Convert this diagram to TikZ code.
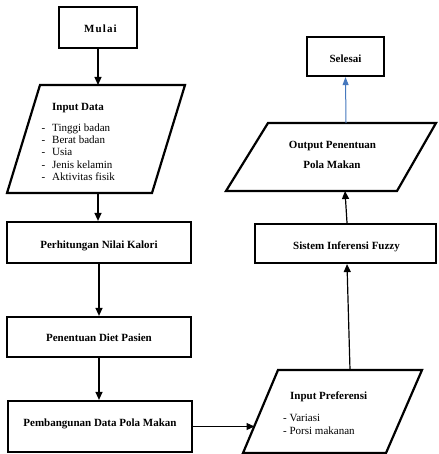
\documentclass[tikz,border=0pt]{standalone}
\usepackage{fontspec}
\setmainfont{Liberation Serif}
\usetikzlibrary{arrows.meta}
\definecolor{arrowblue}{RGB}{70,120,190}
\begin{document}
\begin{tikzpicture}[x=1pt,y=-1pt,
  box/.style={draw,line width=2.2pt,inner sep=0pt},
  para/.style={draw,line width=2.2pt,line join=miter},
  conn/.style={line width=1.2pt,-{Triangle[length=8pt,width=7pt]}},
  blueconn/.style={line width=1pt,draw=arrowblue,-{Triangle[length=8pt,width=6pt]},arrowblue},
  lbl/.style={inner sep=0pt,font=\fontsize{11}{13}\selectfont}]
\useasboundingbox (0,0) rectangle (438,454);
\fill[white] (0,0) rectangle (438,454);

% ---------- left column ----------
\node[box,minimum width=78pt,minimum height=41pt] (mulai) at (98,27.5) {};
\node[lbl,anchor=base] (mulaitxt) at (101,33) {\addfontfeature{LetterSpace=10}\textbf{Mulai}};

% Input Data parallelogram
\draw[para] (40,85) -- (185,85) -- (152,193) -- (7,193) -- cycle;
\coordinate (idtop) at (98,85);
\coordinate (idbot) at (98,193);
\node[lbl,anchor=base west] (idtitle) at (52,110.5) {\textbf{Input Data}};
\foreach \t [count=\i] in {Tinggi badan,Berat badan,Usia,Jenis kelamin,Aktivitas fisik}{
  \node[lbl,anchor=base west] (iddash\i) at (41.5,{131.5+12.25*(\i-1)}) {-};
  \node[lbl,anchor=base west] (iditem\i) at (52,{131.5+12.25*(\i-1)}) {\t};
}

\node[box,minimum width=184pt,minimum height=41pt] (hitung) at (99,242.5) {};
\node[lbl,anchor=base] (hitungtxt) at (99,248) {\textbf{Perhitungan Nilai Kalori}};

\node[box,minimum width=184pt,minimum height=40pt] (diet) at (99,337) {};
\node[lbl,anchor=base] (diettxt) at (99,341.5) {\textbf{Penentuan Diet Pasien}};

\node[box,minimum width=184pt,minimum height=51pt] (bangun) at (100,426.5) {};
\node[lbl,anchor=base] (bangunttxt) at (100,426.5) {\textbf{Pembangunan Data Pola Makan}};

% ---------- right column ----------
% Input Preferensi parallelogram
\draw[para] (278,370) -- (422,370) -- (386,453) -- (243,453) -- cycle;
\coordinate (iptop) at (350,370);
\coordinate (ipleft) at (254.5,426.5);
\node[lbl,anchor=base west] (iptitle) at (290,399) {\textbf{Input Preferensi}};
\node[lbl,anchor=base west] (ipitem1) at (283,421) {- Variasi};
\node[lbl,anchor=base west] (ipitem2) at (283,434.5) {- Porsi makanan};

\node[box,minimum width=181pt,minimum height=39pt] (fuzzy) at (345.5,243.5) {};
\node[lbl,anchor=base] (fuzzytxt) at (346.5,249) {\textbf{Sistem Inferensi Fuzzy}};

% Output parallelogram
\draw[para] (268,123) -- (436,123) -- (397,191) -- (226,191) -- cycle;
\coordinate (outtop) at (346,123);
\coordinate (outbot) at (345,191);
\node[lbl,anchor=base] (outl1) at (332.5,149) {\textbf{Output Penentuan}};
\node[lbl,anchor=base] (outl2) at (332,169) {\textbf{Pola Makan}};

\node[box,minimum width=77pt,minimum height=39pt] (selesai) at (345.5,56.5) {};
\node[lbl,anchor=base] (selesaitxt) at (345.5,63) {\textbf{Selesai}};

% ---------- connectors ----------
\draw[conn] (mulai.south) -- (idtop);
\draw[conn] (idbot) -- (hitung.north -| idbot);
\draw[conn] (hitung.south) -- (diet.north);
\draw[conn] (diet.south) -- (bangun.north -| diet.south);
\draw[conn] (bangun.east) -- (ipleft);
\draw[conn] (iptop) -- (fuzzy.south -| 347,0);
\draw[conn] (fuzzy.north -| 347,0) -- (outbot);
\draw[blueconn] (outtop) -- (selesai.south);
\end{tikzpicture}
\end{document}
